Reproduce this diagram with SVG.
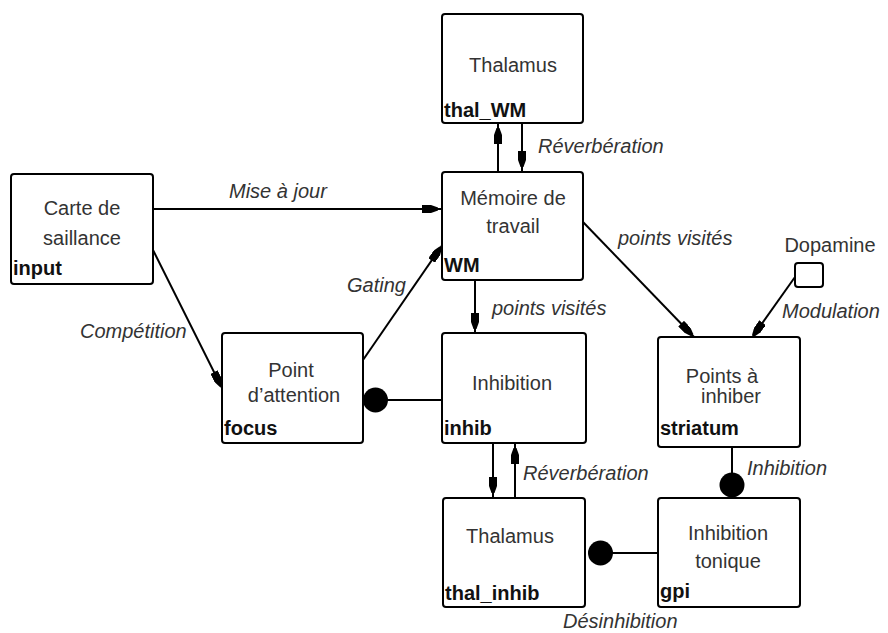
<svg xmlns="http://www.w3.org/2000/svg" width="888" height="633" viewBox="0 0 888 633">
<defs>
<style>
.box{fill:#fff;stroke:#000;stroke-width:2}
.t{font-family:"Liberation Sans",Arial,sans-serif;font-size:20px;fill:#333;text-anchor:middle}
.id{font-family:"Liberation Sans",Arial,sans-serif;font-size:20px;font-weight:bold;fill:#111}
.lb{font-family:"Liberation Sans",Arial,sans-serif;font-size:20px;font-style:italic;fill:#333}
.c{fill:none;stroke:#000;stroke-width:2}
.dot{fill:#000}
</style>
<marker id="ah" viewBox="0 0 20 8" markerWidth="20" markerHeight="8" refX="20" refY="4" orient="auto" markerUnits="userSpaceOnUse">
<path d="M0,0 L9,0 L16,2.5 L16,5.5 L9,8 L0,8 z" fill="#000"/>
</marker>
</defs>
<g id="connectors">
<line class="c" x1="498" y1="172" x2="498" y2="124" marker-end="url(#ah)"/>
<line class="c" x1="522" y1="123" x2="522" y2="171" marker-end="url(#ah)"/>
<line class="c" x1="153" y1="209" x2="442" y2="209" marker-end="url(#ah)"/>
<line class="c" x1="153" y1="250" x2="223" y2="390" marker-end="url(#ah)"/>
<line class="c" x1="363" y1="360" x2="443" y2="244" marker-end="url(#ah)"/>
<line class="c" x1="475" y1="280" x2="475" y2="333" marker-end="url(#ah)"/>
<line class="c" x1="583" y1="222" x2="695" y2="338" marker-end="url(#ah)"/>
<line class="c" x1="795" y1="277" x2="751" y2="339" marker-end="url(#ah)"/>
<line class="c" x1="493" y1="443" x2="493" y2="497" marker-end="url(#ah)"/>
<line class="c" x1="515" y1="498" x2="515" y2="444" marker-end="url(#ah)"/>
<line class="c" x1="386" y1="400" x2="442" y2="400"/>
<circle class="dot" cx="375.5" cy="400" r="12.5"/>
<line class="c" x1="732" y1="447" x2="732" y2="474"/>
<circle class="dot" cx="732" cy="485" r="12.5"/>
<line class="c" x1="612" y1="553" x2="658" y2="553"/>
<circle class="dot" cx="600.5" cy="553" r="12.5"/>
<text class="lb" x="538" y="153">Réverbération</text>
<text class="lb" x="229" y="198">Mise à jour</text>
<text class="lb" x="80" y="338">Compétition</text>
<text class="lb" x="347" y="292">Gating</text>
<text class="lb" x="492" y="315">points visités</text>
<text class="lb" x="618" y="245">points visités</text>
<text class="lb" x="782" y="318">Modulation</text>
<text class="lb" x="523" y="480">Réverbération</text>
<text class="lb" x="747" y="475">Inhibition</text>
<text class="lb" x="563" y="628">Désinhibition</text>
</g>
<g id="thal_WM">
<rect class="box" x="442" y="14" width="141" height="109" rx="3"/>
<text class="t" x="513" y="72">Thalamus</text>
<text class="id" x="444" y="117">thal_WM</text>
</g>
<g id="WM">
<rect class="box" x="442" y="172" width="141" height="108" rx="3"/>
<text class="t" x="513" y="205">Mémoire de</text>
<text class="t" x="513" y="233">travail</text>
<text class="id" x="444" y="272">WM</text>
</g>
<g id="input">
<rect class="box" x="11" y="174" width="142" height="110" rx="3"/>
<text class="t" x="82" y="215">Carte de</text>
<text class="t" x="82" y="245">saillance</text>
<text class="id" x="13" y="275">input</text>
</g>
<g id="focus">
<rect class="box" x="222" y="333" width="141" height="110" rx="3"/>
<text class="t" x="291" y="377">Point</text>
<text class="t" x="294" y="402">d’attention</text>
<text class="id" x="224" y="435">focus</text>
</g>
<g id="inhib">
<rect class="box" x="442" y="333" width="144" height="110" rx="3"/>
<text class="t" x="512" y="390">Inhibition</text>
<text class="id" x="444" y="435">inhib</text>
</g>
<g id="thal_inhib">
<rect class="box" x="443" y="498" width="142" height="109" rx="3"/>
<text class="t" x="510" y="543">Thalamus</text>
<text class="id" x="445" y="600">thal_inhib</text>
</g>
<g id="striatum">
<rect class="box" x="658" y="337" width="142" height="110" rx="3"/>
<text class="t" x="722" y="383">Points à</text>
<text class="t" x="731" y="403">inhiber</text>
<text class="id" x="660" y="435">striatum</text>
</g>
<g id="gpi">
<rect class="box" x="658" y="498" width="142" height="109" rx="3"/>
<text class="t" x="728" y="540">Inhibition</text>
<text class="t" x="728" y="568">tonique</text>
<text class="id" x="660" y="598">gpi</text>
</g>
<g id="dopamine">
<rect class="box" x="795" y="263" width="28" height="24" rx="3"/>
<text class="t" x="830" y="252">Dopamine</text>
</g>
</svg>
